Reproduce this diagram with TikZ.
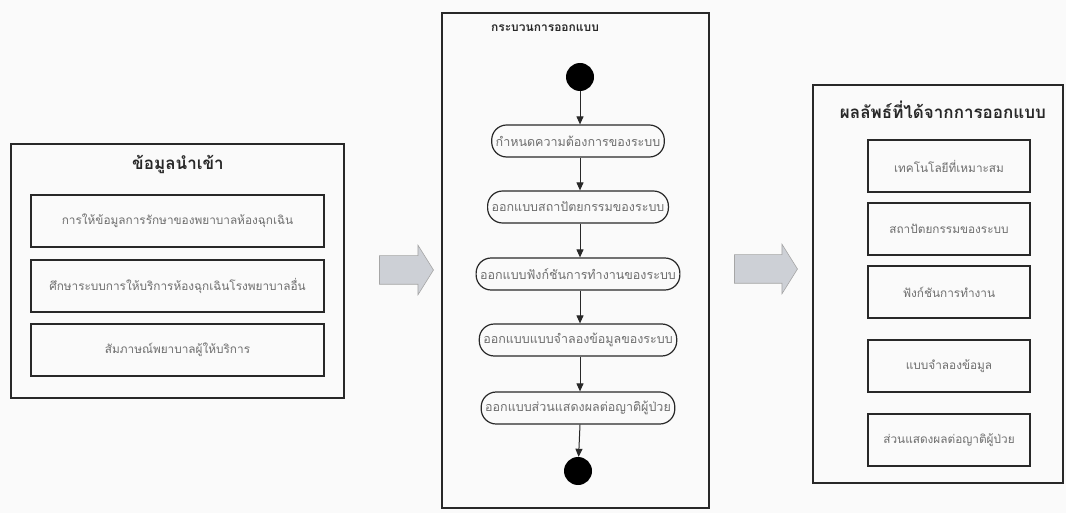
\documentclass[tikz,border=0pt]{standalone}
\usepackage{fontspec}
\newfontfamily\thaifont[Script=Thai]{Loma}
\usetikzlibrary{arrows.meta,shapes.arrows}
\definecolor{paper}{RGB}{250,250,250}
\definecolor{ink}{RGB}{40,40,40}
\definecolor{txt}{RGB}{110,110,110}
\definecolor{arrowfill}{RGB}{205,208,214}
\tikzset{
  frame/.style={draw=ink, line width=1.1pt},
  itembox/.style={draw=ink, line width=1.2pt, minimum height=52pt, inner sep=0pt,
    font=\thaifont\fontsize{11.8}{13}\selectfont, text=txt},
  stepbox/.style={draw=ink, line width=1.2pt, rounded corners=15pt, minimum height=32pt,
    inner xsep=4pt, inner ysep=0pt, font=\thaifont\fontsize{12.5}{14}\selectfont, text=txt},
  heading/.style={font=\thaifont\bfseries\fontsize{17}{19}\selectfont, text=ink},
  subheading/.style={font=\thaifont\bfseries\fontsize{12}{14}\selectfont, text=ink},
  flow/.style={draw=ink, line width=1pt, -{Triangle[length=8pt,width=7pt]}},
  dot/.style={circle, fill=black, inner sep=0pt, minimum size=28pt},
  bigarrow/.style={single arrow, draw=gray!70, fill=arrowfill, line width=0.6pt,
    minimum width=49pt, inner sep=0pt, inner ysep=14pt,
    single arrow head extend=10.5pt, single arrow tip angle=116},
}
\begin{document}
\begin{tikzpicture}[x=1pt,y=-1pt]
\useasboundingbox[fill=paper] (0,0) rectangle (1066,513);

% input column
\draw[frame] (11,144) rectangle (344,398);
\node[heading] (inTitle) at (178,164) {ข้อมูลนำเข้า};
\node[itembox, minimum width=293pt] (in1) at (177.5,221) {การให้ข้อมูลการรักษาของพยาบาลห้องฉุกเฉิน};
\node[itembox, minimum width=293pt] (in2) at (177.5,286) {ศึกษาระบบการให้บริการห้องฉุกเฉินโรงพยาบาลอื่น};
\node[itembox, minimum width=293pt] (in3) at (177.5,350) {สัมภาษณ์พยาบาลผู้ให้บริการ};

% design process column
\draw[frame] (442,13) rectangle (709,508);
\node[subheading] (prTitle) at (545,28) {กระบวนการออกแบบ};
\node[dot] (start) at (580,77) {};
\node[stepbox] (s1) at (578,141) {กำหนดความต้องการของระบบ};
\node[stepbox] (s2) at (578,207) {ออกแบบสถาปัตยกรรมของระบบ};
\node[stepbox] (s3) at (578,274) {ออกแบบฟังก์ชันการทำงานของระบบ};
\node[stepbox] (s4) at (578,340) {ออกแบบแบบจำลองข้อมูลของระบบ};
\node[stepbox] (s5) at (578,408) {ออกแบบส่วนแสดงผลต่อญาติผู้ป่วย};
\node[dot] (stop) at (578,471) {};
\draw[flow] (start) -- (start |- s1.north);
\draw[flow] (s1.south -| start) -- (s2.north -| start);
\draw[flow] (s2.south -| start) -- (s3.north -| start);
\draw[flow] (s3.south -| start) -- (s4.north -| start);
\draw[flow] (s4.south -| start) -- (s5.north -| start);
\draw[flow] (s5.south -| start) -- (stop);

% results column
\draw[frame] (813,85) rectangle (1063,483);
\node[heading] (outTitle) at (943,110) {ผลลัพธ์ที่ได้จากการออกแบบ};
\node[itembox, minimum width=162pt] (o1) at (949,166) {เทคโนโลยีที่เหมาะสม};
\node[itembox, minimum width=162pt] (o2) at (949,229) {สถาปัตยกรรมของระบบ};
\node[itembox, minimum width=162pt] (o3) at (949,292) {ฟังก์ชันการทำงาน};
\node[itembox, minimum width=162pt] (o4) at (949,366) {แบบจำลองข้อมูล};
\node[itembox, minimum width=162pt] (o5) at (949,440) {ส่วนแสดงผลต่อญาติผู้ป่วย};

% block arrows between the columns
\node[bigarrow, minimum height=54pt] (arrA) at (402,270) {};
\node[bigarrow, minimum height=63pt] (arrB) at (761.5,269) {};
\end{tikzpicture}
\end{document}
